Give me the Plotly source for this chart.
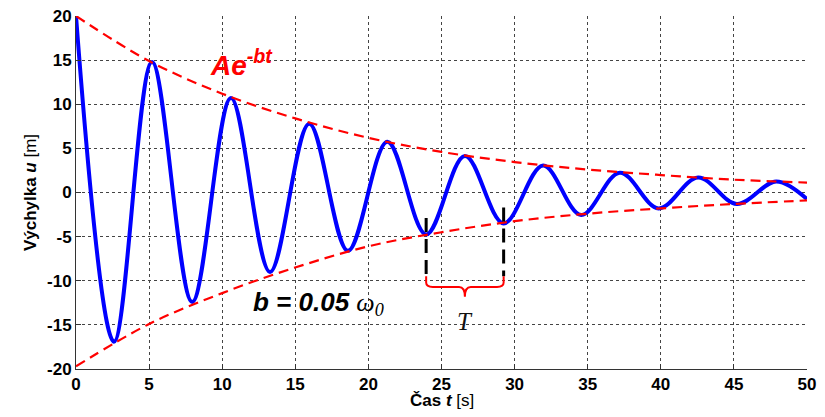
import plotly.graph_objects as go

# --- data ---
# extrema of the damped oscillation (time [s], displacement [m])
ext_t = [0, 2.6, 5.2, 7.95, 10.6, 13.27, 15.95, 18.6, 21.3, 23.95, 26.6,
         29.25, 31.95, 34.55, 37.2, 39.85, 42.55, 45.2, 47.9, 50]
ext_u = [20, -16.9, 14.8, -12.4, 10.7, -9.0, 7.8, -6.6, 5.75, -4.75, 4.15,
         -3.5, 3.05, -2.55, 2.25, -1.8, 1.7, -1.3, 1.25, -0.75]

# envelope curves A e^{-bt}
env_t = [0, 5, 10, 15, 20, 25, 30, 35, 40, 45, 50]
env_upper = [20, 14.9, 11.2, 8.4, 6.2, 4.6, 3.45, 2.6, 1.98, 1.45, 1.13]
env_lower = [-19.7, -14.9, -11.4, -8.5, -6.1, -4.5, -3.25, -2.4, -1.8, -1.3, -0.9]

# period marker (two successive minima)
period_t = [23.95, 29.25]
period_top = [-2.9, -1.7]
period_bottom = -9.5

x_ticks = [0, 5, 10, 15, 20, 25, 30, 35, 40, 45, 50]
y_ticks = [-20, -15, -10, -5, 0, 5, 10, 15, 20]

fig = go.Figure()

fig.add_trace(go.Scatter(
    x=ext_t, y=ext_u, mode="lines",
    line=dict(color="#0000ff", width=4, shape="spline", smoothing=1.0),
    hoverinfo="skip", showlegend=False))

for env in (env_upper, env_lower):
    fig.add_trace(go.Scatter(
        x=env_t, y=env, mode="lines",
        line=dict(color="#ff0000", width=2.2, dash="10px,6px", shape="spline"),
        hoverinfo="skip", showlegend=False))

for tx, top in zip(period_t, period_top):
    fig.add_trace(go.Scatter(
        x=[tx, tx], y=[top, period_bottom], mode="lines",
        line=dict(color="#000000", width=3, dash="14px,7px"),
        hoverinfo="skip", showlegend=False))

# curly brace under the period
t0, t1 = period_t
tm = (t0 + t1) / 2
yb = period_bottom
yh = -10.7
ytip = -11.8
brace = (f"M {t0},{yb} L {t0},{yh+0.5} Q {t0},{yh} {t0+0.45},{yh} "
         f"L {tm-0.4},{yh} Q {tm},{yh} {tm},{ytip} "
         f"Q {tm},{yh} {tm+0.4},{yh} L {t1-0.45},{yh} "
         f"Q {t1},{yh} {t1},{yh+0.5} L {t1},{yb}")
fig.add_shape(type="path", path=brace, xref="x", yref="y",
              line=dict(color="#ff0000", width=2))

fig.add_annotation(x=tm, y=-14.6, xref="x", yref="y", text="<i>T</i>",
                   showarrow=False,
                   font=dict(family="Liberation Serif", size=25, color="#111111"))

fig.add_annotation(x=9.0, y=14.7, xref="x", yref="y", xanchor="left",
                   yanchor="middle",
                   text="<b><i>Ae<sup>-bt</sup></i></b>", showarrow=False,
                   font=dict(family="Liberation Sans", size=28, color="#ff0000"))

fig.add_annotation(x=11.95, y=-12.6, xref="x", yref="y", xanchor="left",
                   yanchor="middle",
                   text=("<b><i>b = 0.05 </i></b>"
                         "<span style='font-family:Liberation Serif'><i>ω<sub>0</sub></i></span>"),
                   showarrow=False,
                   font=dict(family="Liberation Sans", size=26, color="#000000"))

# x-axis title placed as an annotation just below the tick labels
fig.add_annotation(x=0.5, y=0, xref="paper", yref="paper", xanchor="center",
                   yanchor="top", yshift=-20, showarrow=False,
                   text="<b>Čas <i>t</i></b> [s]",
                   font=dict(family="Liberation Sans", size=17, color="#000000"))

axis_common = dict(
    showgrid=True, gridcolor="#444444", griddash="dot", gridwidth=1,
    zeroline=False, showline=True, linecolor="#333333", linewidth=1,
    ticks="inside", ticklen=5, tickcolor="#333333", automargin=False,
    ticklabeloverflow="allow",
    tickfont=dict(family="Liberation Sans", size=17, color="#000000"),
)

fig.update_xaxes(range=[0, 50], tickvals=x_ticks,
                 ticktext=[f"<b>{v}</b>" for v in x_ticks],
                 **axis_common)
fig.update_yaxes(range=[-20, 20], tickvals=y_ticks,
                 ticktext=[f"<b>{v}</b>" for v in y_ticks],
                 title=dict(text="<b>Výchylka <i>u</i></b> [m]", standoff=6,
                            font=dict(family="Liberation Sans", size=17, color="#000000")),
                 **axis_common)

# the page body adds an 8px margin, so the figure is sized to fit inside it
fig.update_layout(
    width=809, height=401,
    margin=dict(l=68, r=10, t=8, b=40),
    paper_bgcolor="#ffffff", plot_bgcolor="#ffffff",
    showlegend=False,
)

fig.write_html("out.html")
